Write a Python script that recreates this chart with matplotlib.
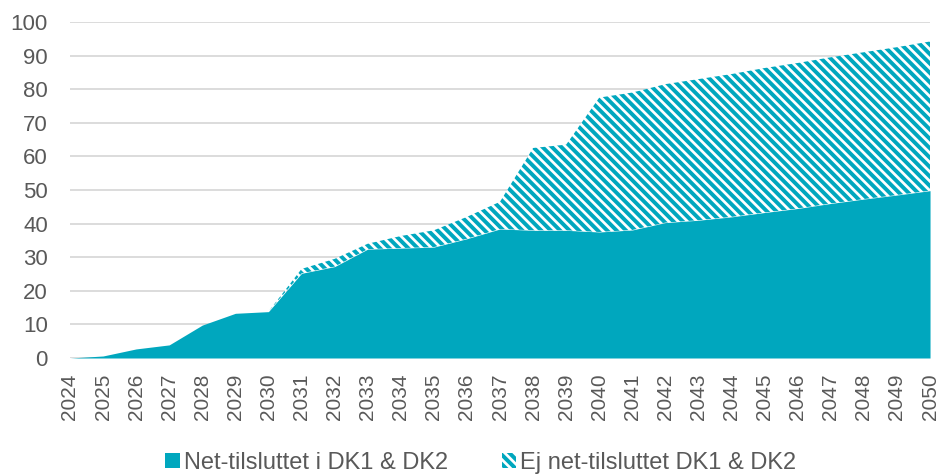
import matplotlib
matplotlib.use('Agg')
import matplotlib.pyplot as plt
from matplotlib.patches import Patch

years = list(range(2024, 2051))
net = [0, 0.6, 2.7, 3.9, 9.8, 13.3, 13.8, 25.2, 27.2, 32.4, 32.7, 33.0, 35.5,
       38.4, 38.0, 38.0, 37.5, 38.1, 40.3, 41.0, 42.0, 43.3, 44.5, 46.0,
       47.3, 48.5, 49.8]
ej_net = [0, 0, 0, 0, 0, 0, 0, 1.3, 2.3, 1.6, 3.6, 5.0, 6.5, 8.1, 24.5, 25.5,
          40.0, 40.9, 41.2, 42.0, 42.5, 43.0, 43.3, 43.5, 43.7, 44.0, 44.4]
labels = ['Net-tilsluttet i DK1 & DK2', 'Ej net-tilsluttet DK1 & DK2']

teal = '#00A7BE'
grey = '#595959'

# dpi 113 so the '\\\\' hatch spacing matches the source (~9.4 px)
DPI = 113
k = 100 / DPI  # sizes below were measured for 100 dpi

plt.rcParams['font.family'] = ['Liberation Sans', 'DejaVu Sans']
plt.rcParams['hatch.linewidth'] = 2.5

fig = plt.figure(figsize=(938 / DPI, 476 / DPI), dpi=DPI)
ax = fig.add_axes([0.0746, 0.2479, 0.9169, 0.7059])

total = [a + b for a, b in zip(net, ej_net)]
ax.fill_between(years, 0, net, color=teal, linewidth=0, zorder=2)
ax.fill_between(years, net, total, facecolor='white', edgecolor=teal,
                hatch='\\\\\\\\', linewidth=0, zorder=2)

ax.set_xlim(2024, 2050)
ax.set_ylim(0, 100)
ax.set_yticks(range(0, 101, 10))
ax.set_xticks(years)
ax.set_xticklabels([str(y) for y in years], rotation=90)
ax.grid(axis='y', color='#D9D9D9', linewidth=1.3 * k, zorder=0)
ax.set_axisbelow(True)
for s in ax.spines.values():
    s.set_visible(False)
ax.tick_params(axis='y', length=0, pad=16 * k, labelsize=16 * k, labelcolor=grey)
ax.tick_params(axis='x', length=0, pad=11 * k, labelsize=15 * k, labelcolor=grey)

handles = [Patch(facecolor=teal, edgecolor='none'),
           Patch(facecolor='white', edgecolor=teal, hatch='\\\\\\\\', linewidth=0)]
fig.legend(handles, labels, loc='center', bbox_to_anchor=(481 / 938, 1 - 463 / 476),
           ncol=2, frameon=False, fontsize=17 * k, labelcolor=grey,
           handlelength=0.6, handleheight=0.6, handletextpad=0.2, columnspacing=2.25)

fig.savefig('out.png', dpi=DPI)
